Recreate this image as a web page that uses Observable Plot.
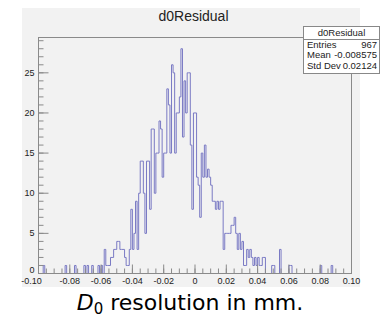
<!DOCTYPE html>
<html><head><meta charset="utf-8">
<script src="https://cdn.jsdelivr.net/npm/d3@7"></script>
<script src="https://cdn.jsdelivr.net/npm/@observablehq/plot@0.6"></script>
<style>
body{margin:0;background:#fff;}
#wrap{position:relative;width:382px;height:327px;font-family:"Liberation Sans",Arial,sans-serif;color:#222;}
#pad{position:absolute;left:22px;top:8px;width:338px;height:279px;background:#f2f2f2;}
#chart{position:absolute;left:0;top:0;}
#title{position:absolute;left:0;width:387px;top:8.6px;line-height:14px;text-align:center;font-size:14px;}
#stats{position:absolute;left:303px;top:26px;width:77px;height:48px;border:1px solid #888;background:#fff;box-sizing:border-box;}
#sep{position:absolute;left:303px;top:39px;width:77px;height:1px;background:#888;}
.row{position:absolute;left:307px;width:70px;font-size:9.5px;line-height:10.5px;height:10.5px;}
.row .k{position:absolute;left:0;}
.row .v{position:absolute;right:0;}
.hdr{position:absolute;left:303px;width:77px;text-align:center;font-size:9.5px;line-height:10.5px;}
#caption{position:absolute;left:0;width:380px;top:292.1px;line-height:22px;text-align:center;font-family:"DejaVu Sans",sans-serif;font-size:22px;color:#000;}
#caption sub{font-size:15px;vertical-align:-4px;line-height:0;}
</style>
</head><body>
<div id="wrap">
  <div id="pad"></div>
  <div id="chart"></div>
  <div id="title"></div>
  <div id="stats"></div>
  <div id="sep"></div>
  <div id="statText"></div>
  <div id="caption"><i>D</i><sub>0</sub> resolution in mm.</div>
</div>
<script>
// ---- data ----
const histTitle = "d0Residual";
const xMin = -0.1, xMax = 0.1, binWidth = 0.001;
const counts = [
  0,0,0,1,0,0,0,0,0,0, 0,0,0,0,0,0,0,1,0,0,
  0,0,0,1,0,0,0,0,0,1, 0,1,0,0,1,0,0,0,1,0,
  1,0,3,1,1,1,2,2,3,3, 4,4,3,3,3,2,1,1,3,8,
  3,5,9,3,10,14,14,10,5,14, 14,8,18,18,10,15,15,19,18,12,
  15,15,23,21,15,26,25,15,20,20, 22,28,17,24,20,25,25,16,8,20,
  20,12,11,7,15,12,16,12,13,12, 11,9,9,8,9,8,9,9,3,5,
  5,5,5,6,6,7,5,3,5,3, 4,1,1,3,2,3,2,1,2,1,
  2,1,1,2,2,0,0,0,0,1, 1,0,0,0,3,0,0,0,0,0,
  1,1,0,0,0,0,0,0,0,0, 0,0,0,0,0,0,0,0,0,0,
  1,0,0,0,0,0,0,1,0,0, 0,0,0,0,0,0,0,0,0,0
];
const statLabels = ["Entries", "Mean", "Std Dev"];
const statValues = ["967", "-0.008575", "0.02124"];
const xTickLabels = [-0.10,-0.08,-0.06,-0.04,-0.02,0,0.02,0.04,0.06,0.08,0.10];
const yTickLabels = [0,5,10,15,20,25];

// ---- build ----
const pts = counts.map((c,i)=>({x: xMin + i*binWidth, c}));
pts.push({x: xMax, c: counts[counts.length-1]});
const yTop = d3.max(counts)*1.05;

const W = 382, H = 327, mL = 38, mR = 31, mT = 37, mB = 54;
const fW = W - mL - mR, fH = H - mT - mB;
const xMinor = d3.range(0, 41).map(i => xMin + i*0.005);
const yMinor = d3.range(0, Math.floor(yTop)+1);
const tickCol = "#8a8a8a";
const xFmt = d => d === 0 ? "0" : d.toFixed(2);

const chart = Plot.plot({
  width: W, height: H,
  marginLeft: mL, marginRight: mR, marginTop: mT, marginBottom: mB,
  style: {background: "transparent", fontFamily: "Liberation Sans, Arial, sans-serif", fontSize: "9px", color: "#222"},
  x: {domain: [xMin, xMax]},
  y: {domain: [0, yTop]},
  marks: [
    Plot.line(pts, {x: "x", y: "c", curve: "step-after", stroke: "#7a7ac4", strokeWidth: 1}),
    Plot.tickX(xMinor, {x: d=>d, stroke: tickCol, insetTop: fH - 4.5}),
    Plot.tickX(xTickLabels, {x: d=>d, stroke: tickCol, insetTop: fH - 8.5}),
    Plot.tickY(yMinor, {y: d=>d, stroke: tickCol, insetRight: fW - 5.5}),
    Plot.tickY(yTickLabels, {y: d=>d, stroke: tickCol, insetRight: fW - 10.5}),
    // x labels (first one sits a little left, as in the reference)
    Plot.axisX({ticks: xTickLabels.slice(1), tickSize: 0, tickPadding: 4, label: null,
      tickFormat: xFmt, fill: "#222"}),
    Plot.axisX({ticks: xTickLabels.slice(0,1), tickSize: 0, tickPadding: 4, label: null,
      tickFormat: xFmt, fill: "#222", dx: -7}),
    // y labels (0 lifted above the x labels)
    Plot.axisY({ticks: yTickLabels.slice(1), tickSize: 0, tickPadding: 4, label: null,
      tickFormat: d => String(d), fill: "#222"}),
    Plot.axisY({ticks: yTickLabels.slice(0,1), tickSize: 0, tickPadding: 4, label: null,
      tickFormat: d => String(d), fill: "#222", dy: -3.5}),
    Plot.frame({stroke: tickCol})
  ]
});
document.getElementById("chart").appendChild(chart);
document.getElementById("title").textContent = histTitle;

const st = document.getElementById("statText");
const hdr = document.createElement("div");
hdr.className = "hdr"; hdr.style.top = "27.5px"; hdr.textContent = histTitle;
st.appendChild(hdr);
const rowTops = [39.5, 50, 60.5];
statLabels.forEach((k,i)=>{
  const r = document.createElement("div");
  r.className = "row"; r.style.top = rowTops[i] + "px";
  const a = document.createElement("span"); a.className = "k"; a.textContent = k;
  const b = document.createElement("span"); b.className = "v"; b.textContent = statValues[i];
  r.appendChild(a); r.appendChild(b); st.appendChild(r);
});
</script>
</body></html>
